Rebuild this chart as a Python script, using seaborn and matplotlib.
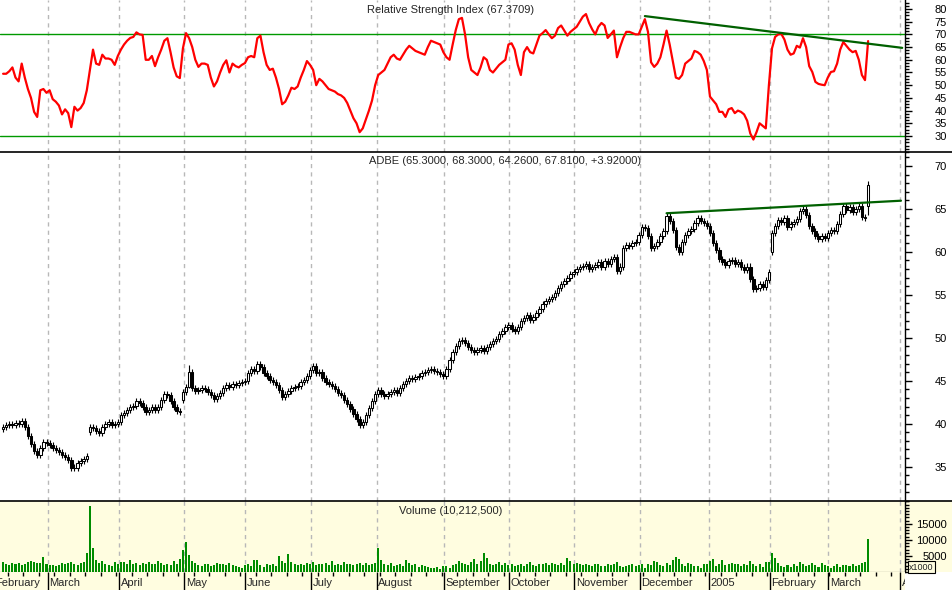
import numpy as np
import matplotlib
matplotlib.use("Agg")
import matplotlib.pyplot as plt
from matplotlib.lines import Line2D
from matplotlib.patches import Rectangle
from matplotlib.ticker import FixedLocator, MultipleLocator
import seaborn as sns

# ---------------------------------------------------------------
# DATA (one value per trading day)
# ---------------------------------------------------------------
close = [
    39.6, 39.9, 40.0, 39.8, 40.1, 40.0, 40.3, 39.6, 38.6, 37.6,
    36.8, 36.3, 37.2, 37.9, 37.7, 37.5, 37.2, 36.9, 36.7, 36.4,
    36.1, 35.8, 34.9, 34.8, 35.4, 35.6, 35.9, 36.2, 39.6, 39.5,
    39.2, 38.9, 39.6, 40.0, 40.2, 39.8, 40.0, 40.2, 41.0, 41.3,
    41.6, 41.9, 42.1, 42.6, 42.4, 41.9, 41.4, 41.6, 41.9, 41.6,
    41.9, 42.8, 43.5, 43.3, 42.6, 42.0, 41.5, 41.4, 43.7, 44.3,
    46.0, 44.2, 43.8, 43.9, 44.1, 44.0, 43.7, 43.3, 42.9, 43.2,
    43.6, 44.2, 44.5, 44.3, 44.6, 44.5, 44.7, 44.8, 45.0, 45.9,
    46.4, 46.1, 47.0, 46.6, 45.9, 45.6, 45.1, 44.8, 44.5, 43.9,
    43.1, 43.5, 43.8, 44.1, 44.3, 44.4, 44.8, 45.1, 45.6, 46.3,
    46.7, 45.9, 46.0, 45.3, 44.9, 44.6, 44.4, 44.0, 43.6, 43.3,
    42.8, 42.3, 41.7, 41.1, 40.5, 39.8, 40.2, 41.0, 41.8, 42.6,
    43.4, 43.9, 43.5, 43.2, 43.5, 43.7, 43.9, 43.6, 44.1, 44.6,
    45.0, 45.3, 45.2, 45.4, 45.6, 45.9, 46.0, 46.2, 46.4, 46.1,
    46.0, 45.8, 45.6, 46.4, 47.4, 48.3, 49.0, 49.6, 49.8, 49.4,
    48.9, 48.6, 48.4, 48.6, 48.8, 48.5, 48.9, 49.3, 49.6, 49.9,
    50.4, 50.8, 51.3, 51.5, 51.0, 50.8, 51.2, 51.9, 52.3, 52.6,
    52.1, 52.4, 52.9, 53.3, 53.9, 54.3, 54.5, 54.8, 55.2, 55.8,
    56.3, 56.6, 57.0, 57.4, 57.7, 58.0, 58.2, 58.4, 58.6, 58.0,
    58.2, 58.5, 58.8, 58.3, 58.9, 58.6, 59.2, 59.4, 57.8, 58.3,
    60.4, 60.8, 60.7, 61.0, 61.1, 62.0, 62.9, 62.8, 61.8, 60.5,
    60.7, 61.2, 61.8, 62.4, 64.2, 63.6, 62.5, 60.6, 60.0, 61.2,
    62.0, 62.4, 62.7, 63.4, 63.9, 63.6, 63.4, 63.0, 62.2, 61.0,
    60.2, 59.2, 58.8, 58.5, 58.9, 59.1, 58.6, 58.8, 58.2, 57.9,
    58.3, 56.8, 55.7, 55.8, 56.3, 55.9, 56.7, 57.7, 62.2, 63.0,
    63.7, 63.5, 63.9, 62.9, 63.2, 63.5, 63.8, 64.8, 65.0, 64.3,
    63.0, 62.4, 61.8, 61.5, 61.8, 61.6, 62.2, 62.5, 62.4, 63.3,
    64.4, 65.3, 64.9, 65.2, 64.6, 65.0, 65.3, 64.1, 63.89, 67.81,
]
# opening gaps (day -> open); other days open at the previous close
gap_open = {0: 39.4, 28: 39.0, 58: 42.8, 60: 44.3, 248: 60.0, 279: 65.30}
# days with long shadows (day -> (high, low))
shadows = {60: (46.8, 44.1), 279: (68.30, 64.26)}

rsi = [
    54.5, 54.5, 55.5, 57, 53, 51.5, 58.5, 53, 48.5, 45,
    39.5, 37.5, 48, 48.5, 47, 48, 44.5, 43.5, 42, 38.5,
    40.5, 39, 33.5, 41.5, 40, 41, 43, 48, 56, 64,
    58.5, 58, 62, 60.5, 60.5, 60, 58, 61.5, 64, 66,
    67.5, 68.6, 69, 70.8, 70, 69.8, 60, 60, 61.5, 57.5,
    61, 64, 67.5, 68.5, 63, 57, 53.5, 52.8, 64.5, 70.5,
    68.5, 65, 60, 57.2, 58.5, 58.5, 58, 53, 49.5, 51.5,
    55, 58, 59.8, 55, 58.5, 57.5, 57, 58, 58.7, 61,
    61.5, 61, 68.5, 69.5, 63, 58, 56, 56.5, 53, 48.5,
    42.5, 43.5, 46, 49, 48.5, 49.5, 53, 56, 59.5, 58,
    56, 50, 52.5, 51.5, 50, 48.5, 48, 47.5, 46.5, 46,
    45, 43, 40, 37, 35, 31.5, 33, 36.5, 40, 44,
    50, 54, 55, 56, 58.5, 61, 62, 60.5, 60, 62,
    64, 65.5, 64.5, 63.5, 63, 62.5, 62, 65, 67.5, 67,
    66.5, 66, 63, 61, 60, 66, 71.7, 76, 76.5, 70,
    61, 56, 55, 54, 57, 61, 60, 56, 55, 56.5,
    58, 59, 60, 66, 66.5, 64, 58, 54, 63, 65,
    63, 62.5, 66, 69.5, 70.5, 71.7, 70, 68.5, 69.5, 72.5,
    73.5, 71.5, 69.5, 71, 72, 73, 75, 77, 78, 74.5,
    72, 70, 73, 74.5, 73.5, 68.6, 70, 71.5, 61, 65,
    68.5, 71, 71, 70.5, 70, 70, 73, 76, 71, 59,
    57.2, 58.5, 61, 66, 71.5, 66, 59.5, 53, 52.5, 54,
    58.5, 59.5, 60.5, 63.5, 63, 62, 59.5, 56, 45.5, 44,
    42.5, 39.5, 39.5, 37.5, 40.5, 41, 39, 40, 39.5, 38.5,
    36, 31, 28.6, 31.5, 35, 34, 33, 50, 64.5, 69,
    70, 70.2, 68, 64, 62, 62.5, 65.5, 64.8, 68.5, 65,
    57.5, 55.2, 51.3, 50.5, 50.2, 50, 53, 55.2, 55.5, 58.5,
    64, 67, 65.5, 64, 63, 63.5, 60, 54, 52, 67.37,
]

# volume in thousands of shares
volume = [
    3.0, 2.6, 2.2, 2.8, 2.4, 2.9, 2.2, 2.5, 3.2, 3.3,
    3.1, 2.7, 2.9, 4.6, 2.4, 2.1, 2.3, 2.0, 2.2, 2.8,
    2.6, 2.9, 3.0, 2.5, 2.2, 2.7, 3.1, 5.9, 20.6, 7.5,
    3.6, 2.9, 3.3, 2.5, 2.2, 2.0, 3.1, 2.4, 3.1, 3.0,
    2.6, 3.6, 2.4, 2.7, 2.2, 2.8, 2.6, 3.2, 2.4, 2.5,
    3.3, 2.8, 2.3, 2.5, 2.1, 3.4, 2.6, 3.9, 6.9, 9.4,
    5.3, 3.4, 2.7, 2.3, 2.0, 2.6, 2.4, 1.9, 2.1, 2.8,
    2.4, 2.6, 2.3, 2.9, 2.2, 2.0, 1.6, 1.3, 2.2, 2.5,
    1.9, 3.7, 3.6, 2.2, 1.7, 2.6, 2.1, 2.4, 2.0, 5.0,
    3.3, 2.7, 5.6, 3.1, 2.4, 2.2, 2.6, 2.1, 2.8, 2.6,
    3.1, 2.2, 2.5, 2.4, 2.9, 2.1, 3.3, 2.2, 2.6, 2.2,
    3.0, 2.5, 2.6, 2.1, 2.4, 2.9, 2.3, 2.7, 2.2, 2.6,
    2.9, 7.4, 3.6, 2.4, 2.2, 2.9, 1.9, 2.2, 2.6, 1.8,
    3.7, 2.8, 2.1, 2.4, 1.6, 2.2, 1.9, 1.6, 1.4, 1.1,
    1.6, 0.9, 1.8, 2.0, 1.4, 2.2, 2.6, 3.3, 2.7, 2.5,
    2.2, 3.0, 4.0, 2.6, 3.4, 5.9, 4.4, 2.6, 2.2, 2.4,
    3.1, 2.2, 2.8, 2.1, 2.6, 1.8, 2.2, 2.4, 2.0, 2.6,
    3.2, 2.2, 1.8, 2.6, 2.4, 2.8, 2.2, 2.8, 2.6, 2.2,
    2.7, 2.3, 4.3, 3.4, 2.6, 2.7, 2.4, 2.2, 2.6, 2.3,
    1.8, 2.4, 2.6, 2.0, 1.8, 2.4, 2.3, 2.6, 3.2, 2.0,
    1.7, 2.0, 2.2, 2.4, 1.8, 2.2, 2.4, 1.4, 2.6, 2.3,
    3.3, 3.1, 2.2, 1.8, 2.8, 2.3, 3.6, 4.7, 4.2, 2.5,
    1.9, 2.8, 2.4, 1.8, 2.0, 1.4, 2.4, 2.6, 3.3, 3.9,
    1.8, 2.4, 3.6, 2.2, 2.6, 2.8, 2.4, 2.5, 1.9, 2.6,
    2.2, 3.3, 2.4, 2.0, 2.4, 1.6, 3.0, 3.0, 5.9, 4.4,
    2.8, 2.0, 1.7, 2.2, 1.6, 2.4, 1.8, 3.1, 2.6, 1.9,
    2.3, 2.8, 2.2, 1.6, 2.8, 2.2, 2.0, 1.4, 1.8, 2.5,
    1.6, 2.2, 2.3, 2.0, 2.4, 1.9, 2.2, 2.7, 3.0, 10.2125,
]

# month boundaries (trading-day index) and their labels
month_pos = [-3.1, 14.5, 37.5, 58.5, 78.1, 99.4, 120.5, 142.3, 163.3,
             184.3, 205.5, 227.6, 247.3, 266.2, 289.4]
month_names = ["February", "March", "April", "May", "June", "July", "August",
               "September", "October", "November", "December", "2005",
               "February", "March", "April"]

# hand-drawn trendlines (day, value)
rsi_trend_day = [207, 290]
rsi_trend_val = [77.2, 64.7]
price_trend_day = [214, 289.6]
price_trend_val = [64.5, 65.96]

rsi_title = "Relative Strength Index (67.3709)"
price_title = "ADBE (65.3000, 68.3000, 64.2600, 67.8100, +3.92000)"
vol_title = "Volume (10,212,500)"

# ---------------------------------------------------------------
# STYLE
# ---------------------------------------------------------------
sns.set_style("white")
plt.rcParams['font.family'] = ['Liberation Sans', 'DejaVu Sans']
FS = 8
YELLOW = '#fffde0'
GRID = '#b8b8b8'
W, H = 952, 590
XLIM = (-1.0, 290.9)

fig = plt.figure(figsize=(W / 100, H / 100), dpi=100)


def box(x0, y0, x1, y1):
    # pixel box (top-left origin) -> figure fraction
    return [x0 / W, 1 - y1 / H, (x1 - x0) / W, (y1 - y0) / H]


ax_rsi = fig.add_axes(box(0, 0, 905, 152))
ax_px = fig.add_axes(box(0, 152, 905, 501))
ax_vol = fig.add_axes(box(0, 501, 905, 572))
ax_lab = fig.add_axes(box(0, 572, 905, 590))

# yellow strip right of the volume panel (behind the axes)
fig.patches.append(Rectangle((905 / W, 1 - 572 / H), 47 / W, 71 / H,
                             transform=fig.transFigure, facecolor=YELLOW,
                             edgecolor='none', zorder=-5))

days = np.arange(len(close))
close_a = np.array(close)
open_a = np.r_[close_a[0], close_a[:-1]]
for d, o in gap_open.items():
    open_a[d] = o
high_a = np.maximum(open_a, close_a) + 0.35
low_a = np.minimum(open_a, close_a) - 0.35
for d, (hi, lo) in shadows.items():
    high_a[d] = hi
    low_a[d] = lo

# ---- RSI panel ----
ax_rsi.axhline(70, color='#009900', lw=1)
ax_rsi.axhline(30, color='#009900', lw=1)
sns.lineplot(x=days, y=rsi, ax=ax_rsi, color='#ff0000', linewidth=1.6)
sns.lineplot(x=rsi_trend_day, y=rsi_trend_val, ax=ax_rsi, color='#006000',
             linewidth=1.6)
ax_rsi.set_ylim(23.7, 83.54)
ax_rsi.yaxis.set_major_locator(FixedLocator(range(30, 81, 5)))
ax_rsi.yaxis.set_minor_locator(MultipleLocator(1.25))

# ---- price panel ----
up = close_a >= open_a
ax_px.vlines(days, low_a, high_a, color='black', lw=0.8, zorder=2)
body = np.abs(close_a - open_a)
body = np.where(body < 0.06, 0.06, body)
bottom = np.minimum(open_a, close_a)
ax_px.bar(days[up], body[up], bottom=bottom[up], width=0.8, color='white',
          edgecolor='black', linewidth=0.75, zorder=3)
ax_px.bar(days[~up], body[~up], bottom=bottom[~up], width=0.8, color='black',
          edgecolor='black', linewidth=0.75, zorder=3)
sns.lineplot(x=price_trend_day, y=price_trend_val, ax=ax_px, color='#006000',
             linewidth=1.6, zorder=4)
ax_px.set_ylim(31.0, 71.63)
ax_px.yaxis.set_major_locator(FixedLocator(range(35, 71, 5)))
ax_px.yaxis.set_minor_locator(MultipleLocator(1))

# ---- volume panel ----
ax_vol.set_facecolor(YELLOW)
ax_vol.bar(days, np.array(volume) * 1000, width=0.65, color='#008c00',
           linewidth=0, zorder=3)
ax_vol.set_ylim(0, 22100)
ax_vol.yaxis.set_major_locator(FixedLocator([5000, 10000, 15000]))
ax_vol.yaxis.set_minor_locator(MultipleLocator(1000))

for ax in (ax_rsi, ax_px, ax_vol):
    ax.set_xlim(*XLIM)
    ax.set_xlabel("")
    ax.set_ylabel("")
    ax.set_xticks([])
    for p in month_pos[1:]:
        ax.axvline(p, color=GRID, lw=1, ls=(0, (3, 3)), zorder=1)
    for s in ('left', 'top', 'bottom'):
        ax.spines[s].set_visible(False)
    ax.spines['right'].set_color('black')
    ax.spines['right'].set_linewidth(1)
    ax.yaxis.tick_right()
    ax.tick_params(axis='y', which='major', direction='out', length=5,
                   width=1, color='black', pad=25, labelsize=FS,
                   labelcolor='black')
    ax.tick_params(axis='y', which='minor', direction='out', length=3,
                   width=1, color='black')
    plt.setp(ax.get_yticklabels(), ha='right')
ax_vol.spines['bottom'].set_visible(True)
ax_vol.spines['bottom'].set_color('black')

# panel separators running the full width
for yp in (152, 501):
    fig.add_artist(Line2D([0, 1], [1 - yp / H, 1 - yp / H], color='black',
                          lw=1.2, transform=fig.transFigure))

# ---- month label strip ----
ax_lab.set_facecolor(YELLOW)
ax_lab.set_xlim(*XLIM)
ax_lab.set_ylim(0, 1)
for s in ax_lab.spines.values():
    s.set_visible(False)
ax_lab.set_yticks([])
ax_lab.xaxis.tick_top()
ax_lab.xaxis.set_major_locator(FixedLocator(month_pos[1:]))
ax_lab.xaxis.set_minor_locator(FixedLocator(np.arange(1.5, 290, 5)))
ax_lab.tick_params(axis='x', which='major', direction='in', length=13,
                   width=1, color='black', labeltop=False, labelbottom=False)
ax_lab.tick_params(axis='x', which='minor', direction='in', length=3,
                   width=1, color='black')
for p, name in zip(month_pos, month_names):
    ax_lab.text(p + 0.45, 0.38, name, fontsize=FS, ha='left', va='center',
                clip_on=True)

# ---- titles ----
fig.text(451 / W, 1 - 10 / H, rsi_title, fontsize=FS, ha='center', va='center')
fig.text(369 / W, 1 - 161 / H, price_title, fontsize=FS, ha='left', va='center')
fig.text(451 / W, 1 - 511 / H, vol_title, fontsize=FS, ha='center', va='center')
fig.text(909 / W, 1 - 567 / H, "x1000", fontsize=6.5, ha='left', va='center',
         bbox=dict(boxstyle='square,pad=0.15', fc=YELLOW, ec='black', lw=0.8))

fig.savefig("out.png", dpi=100)
